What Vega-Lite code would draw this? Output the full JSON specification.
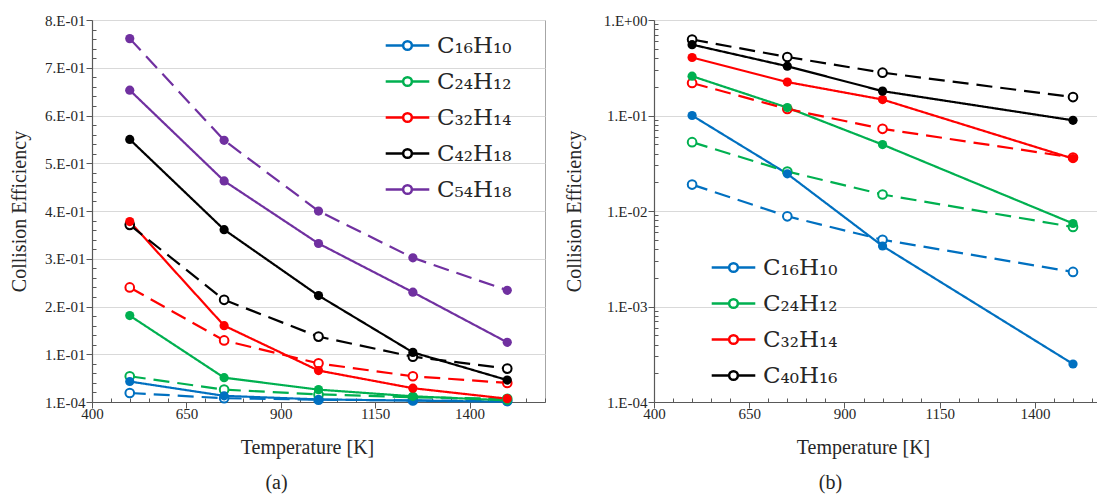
{
  "$schema": "https://vega.github.io/schema/vega-lite/v6.json",
  "background": "white",
  "padding": {"left": 9, "top": 12, "right": 0, "bottom": 0},
  "spacing": 17,
  "config": {
    "font": "Liberation Serif",
    "view": {"stroke": "#a6a6a6", "strokeWidth": 1},
    "axis": {
      "labelFont": "Liberation Serif",
      "labelFontSize": 15,
      "labelColor": "#262626",
      "titleFont": "Liberation Serif",
      "titleFontSize": 20,
      "titleFontWeight": "normal",
      "titleColor": "#262626",
      "domainColor": "#595959",
      "domainWidth": 1.2,
      "tickColor": "#595959",
      "tickWidth": 1,
      "gridColor": "#d9d9d9",
      "gridWidth": 1
    },
    "title": {"font": "Liberation Serif", "fontSize": 20, "fontWeight": "normal", "color": "#262626"},
    "legend": {"labelFont": "DejaVu Serif", "labelColor": "#262626"}
  },
  "resolve": {"scale": {"stroke": "independent", "fill": "independent", "strokeDash": "independent", "x": "independent", "y": "independent"}, "legend": {"stroke": "independent"}},
  "hconcat": [
    {
      "width": 453,
      "height": 382,
      "title": {"text": "(a)", "orient": "bottom", "offset": 16, "anchor": "middle", "dx": -42},
      "data": {"values": [
        {"compound": "C₁₆H₁₀", "model": "A", "T": 500, "eff": 0.043},
        {"compound": "C₁₆H₁₀", "model": "A", "T": 750, "eff": 0.013},
        {"compound": "C₁₆H₁₀", "model": "A", "T": 1000, "eff": 0.0055},
        {"compound": "C₁₆H₁₀", "model": "A", "T": 1250, "eff": 0.003},
        {"compound": "C₁₆H₁₀", "model": "A", "T": 1500, "eff": 0.0006},
        {"compound": "C₁₆H₁₀", "model": "B", "T": 500, "eff": 0.019},
        {"compound": "C₁₆H₁₀", "model": "B", "T": 750, "eff": 0.008},
        {"compound": "C₁₆H₁₀", "model": "B", "T": 1000, "eff": 0.005},
        {"compound": "C₁₆H₁₀", "model": "B", "T": 1250, "eff": 0.0035},
        {"compound": "C₁₆H₁₀", "model": "B", "T": 1500, "eff": 0.0023},
        {"compound": "C₂₄H₁₂", "model": "A", "T": 500, "eff": 0.181},
        {"compound": "C₂₄H₁₂", "model": "A", "T": 750, "eff": 0.051},
        {"compound": "C₂₄H₁₂", "model": "A", "T": 1000, "eff": 0.026},
        {"compound": "C₂₄H₁₂", "model": "A", "T": 1250, "eff": 0.012},
        {"compound": "C₂₄H₁₂", "model": "A", "T": 1500, "eff": 0.0035},
        {"compound": "C₂₄H₁₂", "model": "B", "T": 500, "eff": 0.054},
        {"compound": "C₂₄H₁₂", "model": "B", "T": 750, "eff": 0.026},
        {"compound": "C₂₄H₁₂", "model": "B", "T": 1000, "eff": 0.016},
        {"compound": "C₂₄H₁₂", "model": "B", "T": 1250, "eff": 0.010},
        {"compound": "C₂₄H₁₂", "model": "B", "T": 1500, "eff": 0.0068},
        {"compound": "C₃₂H₁₄", "model": "A", "T": 500, "eff": 0.378},
        {"compound": "C₃₂H₁₄", "model": "A", "T": 750, "eff": 0.160},
        {"compound": "C₃₂H₁₄", "model": "A", "T": 1000, "eff": 0.066},
        {"compound": "C₃₂H₁₄", "model": "A", "T": 1250, "eff": 0.029},
        {"compound": "C₃₂H₁₄", "model": "A", "T": 1500, "eff": 0.007},
        {"compound": "C₃₂H₁₄", "model": "B", "T": 500, "eff": 0.240},
        {"compound": "C₃₂H₁₄", "model": "B", "T": 750, "eff": 0.129},
        {"compound": "C₃₂H₁₄", "model": "B", "T": 1000, "eff": 0.081},
        {"compound": "C₃₂H₁₄", "model": "B", "T": 1250, "eff": 0.054},
        {"compound": "C₃₂H₁₄", "model": "B", "T": 1500, "eff": 0.040},
        {"compound": "C₄₂H₁₈", "model": "A", "T": 500, "eff": 0.550},
        {"compound": "C₄₂H₁₈", "model": "A", "T": 750, "eff": 0.361},
        {"compound": "C₄₂H₁₈", "model": "A", "T": 1000, "eff": 0.223},
        {"compound": "C₄₂H₁₈", "model": "A", "T": 1250, "eff": 0.104},
        {"compound": "C₄₂H₁₈", "model": "A", "T": 1500, "eff": 0.046},
        {"compound": "C₄₂H₁₈", "model": "B", "T": 500, "eff": 0.371},
        {"compound": "C₄₂H₁₈", "model": "B", "T": 750, "eff": 0.214},
        {"compound": "C₄₂H₁₈", "model": "B", "T": 1000, "eff": 0.137},
        {"compound": "C₄₂H₁₈", "model": "B", "T": 1250, "eff": 0.095},
        {"compound": "C₄₂H₁₈", "model": "B", "T": 1500, "eff": 0.070},
        {"compound": "C₅₄H₁₈", "model": "A", "T": 500, "eff": 0.653},
        {"compound": "C₅₄H₁₈", "model": "A", "T": 750, "eff": 0.463},
        {"compound": "C₅₄H₁₈", "model": "A", "T": 1000, "eff": 0.332},
        {"compound": "C₅₄H₁₈", "model": "A", "T": 1250, "eff": 0.230},
        {"compound": "C₅₄H₁₈", "model": "A", "T": 1500, "eff": 0.125},
        {"compound": "C₅₄H₁₈", "model": "B", "T": 500, "eff": 0.761},
        {"compound": "C₅₄H₁₈", "model": "B", "T": 750, "eff": 0.548},
        {"compound": "C₅₄H₁₈", "model": "B", "T": 1000, "eff": 0.400},
        {"compound": "C₅₄H₁₈", "model": "B", "T": 1250, "eff": 0.302},
        {"compound": "C₅₄H₁₈", "model": "B", "T": 1500, "eff": 0.234}
      ]},
      "encoding": {
        "x": {"field": "T", "type": "quantitative",
          "scale": {"domain": [400, 1600], "nice": false, "zero": false},
          "axis": {
            "title": "Temperature [K]",
            "titleX": 215,
            "grid": false,
            "values": [400,450,500,550,600,650,700,750,800,850,900,950,1000,1050,1100,1150,1200,1250,1300,1350,1400,1450,1500,1550,1600],
            "labelExpr": "(datum.value - 400) % 250 == 0 ? datum.value : ''",
            "tickSize": {"condition": {"test": "(datum.value - 400) % 250 == 0", "value": 6}, "value": -4},
            "labelPadding": -2,
            "labelFlush": false,
            "titlePadding": 16
          }
        },
        "y": {"field": "eff", "type": "quantitative",
          "scale": {"domain": [0.0001, 0.8], "nice": false, "zero": false},
          "axis": {
            "title": "Collision Efficiency",
            "values": [0.0001,0.02,0.04,0.06,0.08,0.1,0.12,0.14,0.16,0.18,0.2,0.22,0.24,0.26,0.28,0.3,0.32,0.34,0.36,0.38,0.4,0.42,0.44,0.46,0.48,0.5,0.52,0.54,0.56,0.58,0.6,0.62,0.64,0.66,0.68,0.7,0.72,0.74,0.76,0.78,0.8],
            "labelExpr": "datum.value < 0.01 ? '1.E-04' : (abs(datum.value*10 - round(datum.value*10)) < 0.000001 ? round(datum.value*10) + '.E-01' : '')",
            "tickSize": {"condition": {"test": "datum.value < 0.01 || abs(datum.value*10 - round(datum.value*10)) < 0.000001", "value": 6}, "value": -4},
            "gridOpacity": {"condition": {"test": "datum.value < 0.01 || abs(datum.value*10 - round(datum.value*10)) < 0.000001", "value": 1}, "value": 0},
            "labelPadding": 1,
            "labelFlush": false,
            "titlePadding": 15
          }
        }
      },
      "layer": [
        {
          "mark": {"type": "line", "strokeWidth": 2.2},
          "encoding": {
            "stroke": {"field": "compound", "type": "nominal",
              "scale": {"domain": ["C₁₆H₁₀", "C₂₄H₁₂", "C₃₂H₁₄", "C₄₂H₁₈", "C₅₄H₁₈"], "range": ["#0070C0", "#00B050", "#FF0000", "#000000", "#7030A0"]},
              "legend": {
                "title": null,
                "orient": "none",
                "legendX": 292,
                "legendY": 2,
                "symbolType": "M-1,0L-0.2,0M0.2,0L1,0M0.2,0A0.2,0.2,0,1,1,-0.2,0A0.2,0.2,0,1,1,0.2,0",
                "symbolSize": 1900,
                "symbolStrokeWidth": 2.5,
                "symbolFillColor": "white",
                "labelFontSize": 23,
                "labelOffset": 6,
                "rowPadding": -9
              }
            },
            "strokeDash": {"field": "model", "type": "nominal", "scale": {"domain": ["A", "B"], "range": [[1, 0], [16, 8]]}, "legend": null}
          }
        },
        {
          "transform": [{"filter": "!(datum.model == 'A' || datum.compound == 'C₅₄H₁₈')"}],
          "mark": {"type": "point", "filled": false, "fill": "white", "strokeWidth": 2, "size": 75, "opacity": 1},
          "encoding": {
            "stroke": {"field": "compound", "type": "nominal"}
          }
        },
        {
          "transform": [{"filter": "datum.model == 'A' || datum.compound == 'C₅₄H₁₈'"}],
          "mark": {"type": "point", "filled": true, "size": 85, "opacity": 1},
          "encoding": {
            "fill": {"field": "compound", "type": "nominal",
              "scale": {"domain": ["C₅₄H₁₈", "C₄₂H₁₈", "C₃₂H₁₄", "C₂₄H₁₂", "C₁₆H₁₀"], "range": ["#7030A0", "#000000", "#FF0000", "#00B050", "#0070C0"]},
              "legend": null}
          }
        }
      ]
    },
    {
      "width": 443,
      "height": 382,
      "title": {"text": "(b)", "orient": "bottom", "offset": 16, "anchor": "middle", "dx": -45},
      "data": {"values": [
        {"compound": "C₁₆H₁₀", "model": "A", "T": 500, "eff": 0.100},
        {"compound": "C₁₆H₁₀", "model": "A", "T": 750, "eff": 0.0245},
        {"compound": "C₁₆H₁₀", "model": "A", "T": 1000, "eff": 0.0043},
        {"compound": "C₁₆H₁₀", "model": "A", "T": 1500, "eff": 0.00025},
        {"compound": "C₁₆H₁₀", "model": "B", "T": 500, "eff": 0.0189},
        {"compound": "C₁₆H₁₀", "model": "B", "T": 750, "eff": 0.0088},
        {"compound": "C₁₆H₁₀", "model": "B", "T": 1000, "eff": 0.0050},
        {"compound": "C₁₆H₁₀", "model": "B", "T": 1500, "eff": 0.0023},
        {"compound": "C₂₄H₁₂", "model": "A", "T": 500, "eff": 0.258},
        {"compound": "C₂₄H₁₂", "model": "A", "T": 750, "eff": 0.121},
        {"compound": "C₂₄H₁₂", "model": "A", "T": 1000, "eff": 0.0496},
        {"compound": "C₂₄H₁₂", "model": "A", "T": 1500, "eff": 0.0074},
        {"compound": "C₂₄H₁₂", "model": "B", "T": 500, "eff": 0.0526},
        {"compound": "C₂₄H₁₂", "model": "B", "T": 750, "eff": 0.0259},
        {"compound": "C₂₄H₁₂", "model": "B", "T": 1000, "eff": 0.0149},
        {"compound": "C₂₄H₁₂", "model": "B", "T": 1500, "eff": 0.0068},
        {"compound": "C₃₂H₁₄", "model": "A", "T": 500, "eff": 0.405},
        {"compound": "C₃₂H₁₄", "model": "A", "T": 750, "eff": 0.224},
        {"compound": "C₃₂H₁₄", "model": "A", "T": 1000, "eff": 0.147},
        {"compound": "C₃₂H₁₄", "model": "A", "T": 1500, "eff": 0.0354},
        {"compound": "C₃₂H₁₄", "model": "B", "T": 500, "eff": 0.219},
        {"compound": "C₃₂H₁₄", "model": "B", "T": 750, "eff": 0.117},
        {"compound": "C₃₂H₁₄", "model": "B", "T": 1000, "eff": 0.0725},
        {"compound": "C₃₂H₁₄", "model": "B", "T": 1500, "eff": 0.0363},
        {"compound": "C₄₀H₁₆", "model": "A", "T": 500, "eff": 0.552},
        {"compound": "C₄₀H₁₆", "model": "A", "T": 750, "eff": 0.328},
        {"compound": "C₄₀H₁₆", "model": "A", "T": 1000, "eff": 0.180},
        {"compound": "C₄₀H₁₆", "model": "A", "T": 1500, "eff": 0.089},
        {"compound": "C₄₀H₁₆", "model": "B", "T": 500, "eff": 0.625},
        {"compound": "C₄₀H₁₆", "model": "B", "T": 750, "eff": 0.410},
        {"compound": "C₄₀H₁₆", "model": "B", "T": 1000, "eff": 0.281},
        {"compound": "C₄₀H₁₆", "model": "B", "T": 1500, "eff": 0.156}
      ]},
      "encoding": {
        "x": {"field": "T", "type": "quantitative",
          "scale": {"domain": [400, 1563], "nice": false, "zero": false},
          "axis": {
            "title": "Temperature [K]",
            "titleX": 209,
            "grid": false,
            "values": [400,450,500,550,600,650,700,750,800,850,900,950,1000,1050,1100,1150,1200,1250,1300,1350,1400,1450,1500,1550],
            "labelExpr": "(datum.value - 400) % 250 == 0 ? datum.value : ''",
            "tickSize": {"condition": {"test": "(datum.value - 400) % 250 == 0", "value": 6}, "value": -4},
            "labelPadding": -2,
            "labelFlush": false,
            "titlePadding": 16
          }
        },
        "y": {"field": "eff", "type": "quantitative",
          "scale": {"type": "log", "domain": [0.0001, 1], "nice": false},
          "axis": {
            "title": "Collision Efficiency",
            "values": [0.0001,0.0002,0.0003,0.0004,0.0005,0.0006,0.0007,0.0008,0.0009,0.001,0.002,0.003,0.004,0.005,0.006,0.007,0.008,0.009,0.01,0.02,0.03,0.04,0.05,0.06,0.07,0.08,0.09,0.1,0.2,0.3,0.4,0.5,0.6,0.7,0.8,0.9,1],
            "labelExpr": "abs(log(datum.value)/LN10 - round(log(datum.value)/LN10)) < 0.000001 ? (datum.value >= 1 ? '1.E+00' : '1.E-0' + round(-log(datum.value)/LN10)) : ''",
            "tickSize": {"condition": {"test": "abs(log(datum.value)/LN10 - round(log(datum.value)/LN10)) < 0.000001", "value": 6}, "value": -4},
            "gridOpacity": {"condition": {"test": "abs(log(datum.value)/LN10 - round(log(datum.value)/LN10)) < 0.000001", "value": 1}, "value": 0},
            "labelPadding": 1,
            "labelFlush": false,
            "titlePadding": 19
          }
        }
      },
      "layer": [
        {
          "mark": {"type": "line", "strokeWidth": 2.2},
          "encoding": {
            "stroke": {"field": "compound", "type": "nominal",
              "scale": {"domain": ["C₁₆H₁₀", "C₂₄H₁₂", "C₃₂H₁₄", "C₄₀H₁₆"], "range": ["#0070C0", "#00B050", "#FF0000", "#000000"]},
              "legend": {
                "title": null,
                "orient": "none",
                "legendX": 56,
                "legendY": 224,
                "symbolType": "M-1,0L-0.2,0M0.2,0L1,0M0.2,0A0.2,0.2,0,1,1,-0.2,0A0.2,0.2,0,1,1,0.2,0",
                "symbolSize": 1900,
                "symbolStrokeWidth": 2.5,
                "symbolFillColor": "white",
                "labelFontSize": 23,
                "labelOffset": 6,
                "rowPadding": -8
              }
            },
            "strokeDash": {"field": "model", "type": "nominal", "scale": {"domain": ["A", "B"], "range": [[1, 0], [16, 8]]}, "legend": null}
          }
        },
        {
          "transform": [{"filter": "datum.model == 'B'"}],
          "mark": {"type": "point", "filled": false, "fill": "white", "strokeWidth": 2, "size": 75, "opacity": 1},
          "encoding": {
            "stroke": {"field": "compound", "type": "nominal"}
          }
        },
        {
          "transform": [{"filter": "datum.model == 'A'"}],
          "mark": {"type": "point", "filled": true, "size": 85, "opacity": 1},
          "encoding": {
            "fill": {"field": "compound", "type": "nominal",
              "scale": {"domain": ["C₄₀H₁₆", "C₃₂H₁₄", "C₂₄H₁₂", "C₁₆H₁₀"], "range": ["#000000", "#FF0000", "#00B050", "#0070C0"]},
              "legend": null}
          }
        }
      ]
    }
  ]
}
